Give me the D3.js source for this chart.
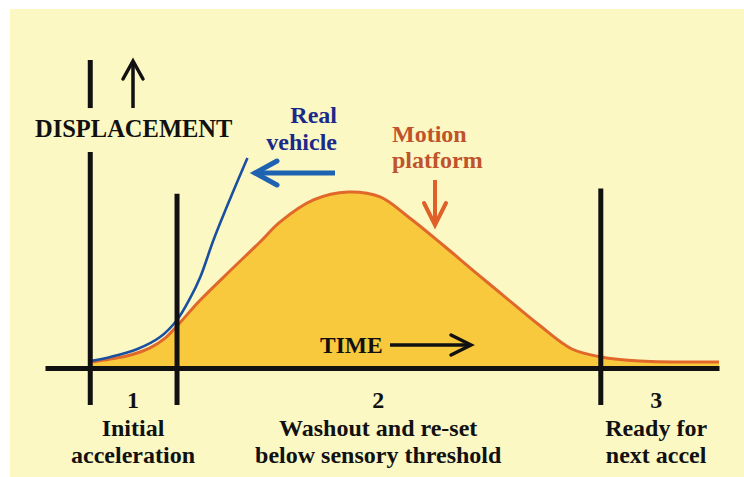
<!DOCTYPE html>
<html><head><meta charset="utf-8">
<script src="https://cdn.jsdelivr.net/npm/d3@7"></script>
<style>html,body{margin:0;padding:0;background:#fff;}svg{display:block;}</style>
</head><body>
<script>
// ---- data ----
const platformTime   = [0, 3.2, 6.4, 9.5, 11.9, 13.8, 17.5, 22.7, 27.0, 30.2, 35.5, 41.0, 46.1, 50.4, 56.1, 61.2, 66.0, 71.4, 76.6, 81.2, 87.4, 100];
const platformValues = [3.4, 5.1, 7.4, 11.4, 17.0, 23.9, 38.6, 56.8, 71.6, 83.0, 95.5, 100, 97.2, 86.4, 69.9, 54.5, 40.3, 24.4, 10.8, 6.3, 4.0, 3.4];
const vehicleTime    = [0, 3.2, 7.5, 11.1, 13.8, 15.9, 17.5, 19.6, 22.3, 25.0];
const vehicleValues  = [4.0, 6.3, 10.8, 17.6, 27.3, 39.8, 51.7, 72.7, 96.6, 119.3];
const phaseBounds    = [0, 13.8, 81.2];
const phaseCenters   = [6.8, 45.8, 90];
const phaseNums      = ["1", "2", "3"];
const phaseLine1     = ["Initial", "Washout and re-set", "Ready for"];
const phaseLine2     = ["acceleration", "below sensory threshold", "next accel"];

const W = 744, H = 477;
const svg = d3.select("body").append("svg").attr("width", W).attr("height", H);
svg.append("rect").attr("width", W).attr("height", H).attr("fill", "#ffffff");
svg.append("rect").attr("x", 10).attr("y", 9).attr("width", W - 10).attr("height", H - 9).attr("fill", "#fcf8c4");

const x = d3.scaleLinear().domain([-7.2, 100]).range([45, 719]);
const y = d3.scaleLinear().domain([0, 100]).range([368, 192]);

const plat = platformTime.map((t, i) => ({t, v: platformValues[i]}));
const veh = vehicleTime.map((t, i) => ({t, v: vehicleValues[i]}));
const curve = d3.curveCatmullRom.alpha(0.5);

// filled area
svg.append("path").datum(plat)
  .attr("d", d3.area().x(d => x(d.t)).y0(y(0)).y1(d => y(d.v)).curve(curve))
  .attr("fill", "#f8c93c");
svg.append("path").datum(plat)
  .attr("d", d3.line().x(d => x(d.t)).y(d => y(d.v)).curve(curve))
  .attr("fill", "none").attr("stroke", "#e0682a").attr("stroke-width", 3);
svg.append("path").datum(veh)
  .attr("d", d3.line().x(d => x(d.t)).y(d => y(d.v)).curve(curve))
  .attr("fill", "none").attr("stroke", "#1a50a0").attr("stroke-width", 2.6);

// x axis baseline
const axis = svg.append("g").attr("transform", `translate(0,${y(0)})`)
  .call(d3.axisBottom(x).tickValues([]).tickSizeOuter(0));
axis.select(".domain").attr("stroke", "#111").attr("stroke-width", 5);

// phase boundary lines (top extents in displacement units)
const lineTops = [122.7, 99, 102];
const lineBottom = -21;
phaseBounds.forEach((t, i) => {
  svg.append("line").attr("x1", x(t)).attr("x2", x(t))
    .attr("y1", y(lineTops[i])).attr("y2", y(lineBottom))
    .attr("stroke", "#111").attr("stroke-width", 5);
});
// upper segment of the displacement axis
svg.append("line").attr("x1", x(0)).attr("x2", x(0))
  .attr("y1", y(175)).attr("y2", y(147.7))
  .attr("stroke", "#111").attr("stroke-width", 5);

// arrows
function arrow(x1, y1, x2, y2, color, w, head, hw) {
  const ang = Math.atan2(y2 - y1, x2 - x1);
  svg.append("line").attr("x1", x1).attr("y1", y1).attr("x2", x2).attr("y2", y2)
    .attr("stroke", color).attr("stroke-width", w);
  const bx = x2 - head * Math.cos(ang), by = y2 - head * Math.sin(ang);
  const px = -Math.sin(ang) * hw, py = Math.cos(ang) * hw;
  svg.append("path")
    .attr("d", `M${bx + px},${by + py}L${x2},${y2}L${bx - px},${by - py}`)
    .attr("fill", "none").attr("stroke", color).attr("stroke-width", w)
    .attr("stroke-linejoin", "miter").attr("stroke-linecap", "round");
}
arrow(133, 108, 133, 61, "#111", 3.5, 18, 10);
arrow(335, 173, 255, 173, "#1e62b2", 5, 22, 12);
arrow(435, 180, 435, 225, "#e0602a", 4, 22, 11);
arrow(390, 345, 471, 345, "#111", 3.5, 20, 10);

// texts
const font = "'Liberation Serif','Times New Roman',serif";
function txt(s, tx, ty, size, color, anchor) {
  svg.append("text").attr("x", tx).attr("y", ty).text(s)
    .attr("font-family", font).attr("font-weight", "bold")
    .attr("font-size", size).attr("fill", color).attr("text-anchor", anchor || "middle");
}
txt("DISPLACEMENT", 35, 137, 24.5, "#111", "start");
txt("TIME", 320, 353, 23.5, "#111", "start");
txt("Real", 337, 123, 24, "#1b2a8a", "end");
txt("vehicle", 337, 150, 24, "#1b2a8a", "end");
txt("Motion", 392, 142, 24, "#c0532c", "start");
txt("platform", 392, 168, 24, "#c0532c", "start");

phaseCenters.forEach((c, i) => {
  txt(phaseNums[i], x(c), 408, 24, "#111");
  txt(phaseLine1[i], x(c), 436, 24, "#111");
  txt(phaseLine2[i], x(c), 463, 24, "#111");
});
</script>
</body></html>
